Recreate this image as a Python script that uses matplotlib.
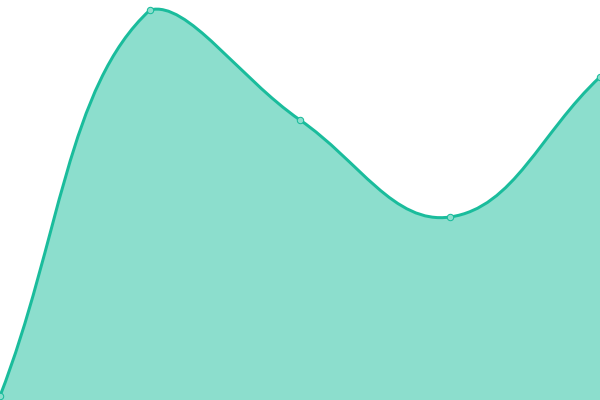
import numpy as np
import matplotlib
matplotlib.use("Agg")
import matplotlib.pyplot as plt
from matplotlib.path import Path
from matplotlib.patches import PathPatch

labels = ["A", "B", "C", "D", "E"]
values = [4, 390, 280, 183, 323]

LINE = "#1abc9c"
FILL = "#8cdecd"
TENSION = 0.4

fig = plt.figure(figsize=(6, 4), dpi=100)
ax = fig.add_axes([0, 0, 1, 1])
ax.set_xlim(0, len(labels) - 1)
ax.set_ylim(0, 400)
ax.axis("off")

x = np.arange(len(labels), dtype=float)
y = np.array(values, dtype=float)
pts = ax.transData.transform(np.column_stack([x, y]))
bb = ax.bbox

n = len(pts)
cp_prev = np.zeros_like(pts)
cp_next = np.zeros_like(pts)
for i in range(n):
    prev = pts[i - 1] if i > 0 else pts[i]
    cur = pts[i]
    nxt = pts[i + 1] if i < n - 1 else pts[i]
    d01 = np.hypot(*(cur - prev))
    d12 = np.hypot(*(nxt - cur))
    tot = d01 + d12
    s01 = d01 / tot if tot else 0
    s12 = d12 / tot if tot else 0
    fa = TENSION * s01
    fb = TENSION * s12
    cp_prev[i] = cur - fa * (nxt - prev)
    cp_next[i] = cur + fb * (nxt - prev)

def cap(p):
    return np.array([min(max(p[0], bb.x0), bb.x1), min(max(p[1], bb.y0), bb.y1)])

cp_prev = np.array([cap(p) for p in cp_prev])
cp_next = np.array([cap(p) for p in cp_next])

verts = [pts[0]]
codes = [Path.MOVETO]
for i in range(n - 1):
    verts += [cp_next[i], cp_prev[i + 1], pts[i + 1]]
    codes += [Path.CURVE4] * 3

inv = ax.transData.inverted()
verts_d = inv.transform(np.array(verts))

line_path = Path(verts_d, codes)
fill_verts = list(verts_d) + [[x[-1], 0], [x[0], 0], verts_d[0]]
fill_codes = codes + [Path.LINETO, Path.LINETO, Path.CLOSEPOLY]
fill_path = Path(fill_verts, fill_codes)

ax.add_patch(PathPatch(fill_path, facecolor=FILL, edgecolor="none", zorder=1))
ax.add_patch(PathPatch(line_path, facecolor="none", edgecolor=LINE, lw=2.16,
                       capstyle="round", joinstyle="round", zorder=2))
ax.plot(x, y, linestyle="none", marker="o", markersize=4.6,
        markerfacecolor=FILL, markeredgecolor=LINE, markeredgewidth=0.75,
        zorder=3, clip_on=False)

fig.savefig("out.png", dpi=100)
